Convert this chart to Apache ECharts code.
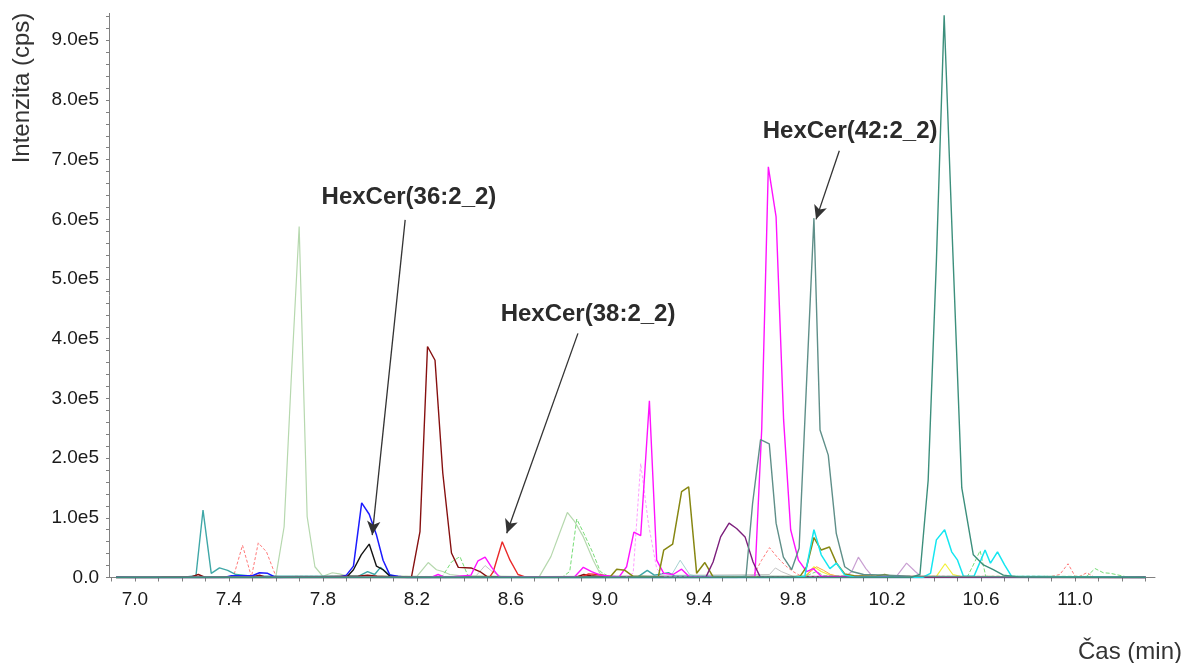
<!DOCTYPE html>
<html>
<head>
<meta charset="utf-8">
<script src="https://cdn.jsdelivr.net/npm/echarts@6/dist/echarts.min.js"></script>
<style>
  html, body { margin: 0; padding: 0; background: #fff; }
  #chart { width: 1186px; height: 663px; }
</style>
</head>
<body>
<div id="chart"></div>
<script>
// intensities in units of 1e5 cps, time in min
const xLabelTicks = [7.0, 7.4, 7.8, 8.2, 8.6, 9.0, 9.4, 9.8, 10.2, 10.6, 11.0];
const xTicks = [6.9, 7.0, 7.1, 7.2, 7.3, 7.4, 7.5, 7.6, 7.7, 7.8, 7.9, 8.0, 8.1, 8.2, 8.3, 8.4, 8.5,
  8.6, 8.7, 8.8, 8.9, 9.0, 9.1, 9.2, 9.3, 9.4, 9.5, 9.6, 9.7, 9.8, 9.9, 10.0, 10.1, 10.2, 10.3,
  10.4, 10.5, 10.6, 10.7, 10.8, 10.9, 11.0, 11.1, 11.2, 11.3];
const yLabelTicks = [0, 1, 2, 3, 4, 5, 6, 7, 8, 9];
const yTicks = [0, 0.2, 0.4, 0.6, 0.8, 1, 1.2, 1.4, 1.6, 1.8, 2, 2.2, 2.4, 2.6, 2.8, 3, 3.2, 3.4,
  3.6, 3.8, 4, 4.2, 4.4, 4.6, 4.8, 5, 5.2, 5.4, 5.6, 5.8, 6, 6.2, 6.4, 6.6, 6.8, 7, 7.2, 7.4,
  7.6, 7.8, 8, 8.2, 8.4, 8.6, 8.8, 9, 9.2, 9.4];

const paleGreen = [[6.92, 0], [7.56, 0], [7.60, 0.02], [7.635, 0.85], [7.665, 3.3], [7.699, 5.88],
  [7.733, 1.02], [7.766, 0.18], [7.80, 0.02], [7.84, 0.08], [7.87, 0.06], [7.90, 0.03], [8.20, 0.02],
  [8.248, 0.25], [8.283, 0.13], [8.31, 0.1], [8.34, 0.05], [8.38, 0.03], [8.72, 0.01], [8.77, 0.35],
  [8.805, 0.72], [8.84, 1.09], [8.872, 0.93], [8.908, 0.68], [8.95, 0.29], [8.98, 0.06], [9.02, 0.01],
  [11.3, 0]];
const lightRed = [[6.92, 0], [7.40, 0], [7.42, 0.02], [7.458, 0.54], [7.496, 0.01], [7.525, 0.58],
  [7.56, 0.43], [7.60, 0.02], [7.64, 0.01], [7.68, 0.02], [9.60, 0.01], [9.63, 0.02], [9.665, 0.28],
  [9.70, 0.5], [9.735, 0.33], [9.77, 0.19], [9.80, 0.1], [9.835, 0.02], [10.90, 0.02], [10.935, 0.05],
  [10.97, 0.23], [11.0, 0.02], [11.02, 0.02], [11.05, 0.08], [11.08, 0.01], [11.3, 0]];
const teal = [[6.92, 0], [7.20, 0], [7.26, 0.03], [7.29, 1.13], [7.325, 0.07], [7.36, 0.16],
  [7.395, 0.12], [7.43, 0.05], [7.50, 0.02], [7.95, 0.02], [7.99, 0.1], [8.02, 0.05], [8.045, 0.17],
  [8.08, 0.05], [8.12, 0], [9.14, 0.01], [9.18, 0.12], [9.21, 0.04], [9.27, 0.08], [9.30, 0.02],
  [11.3, 0]];
const blue = [[6.92, 0.01], [7.00, 0], [7.38, 0], [7.41, 0.03], [7.50, 0.03], [7.53, 0.08],
  [7.565, 0.07], [7.60, 0], [7.87, 0.01], [7.90, 0.04], [7.93, 0.19], [7.965, 1.25], [7.997, 1.06],
  [8.028, 0.71], [8.056, 0.29], [8.085, 0.04], [8.12, 0.02], [8.16, 0], [11.3, 0]];
const black = [[6.92, 0], [7.90, 0], [7.93, 0.13], [7.963, 0.38], [7.997, 0.56], [8.028, 0.19],
  [8.056, 0.13], [8.085, 0.02], [8.12, 0.01], [8.16, 0], [11.3, 0]];
const maroon = [[6.92, 0], [7.10, 0], [7.12, 0.01], [7.24, 0.01], [7.27, 0.05], [7.30, 0],
  [7.50, 0.01], [7.53, 0.04], [7.56, 0], [7.95, 0.02], [7.99, 0.04], [8.03, 0.02], [8.15, 0],
  [8.177, 0.01], [8.213, 0.77], [8.245, 3.87], [8.277, 3.64], [8.31, 1.75], [8.347, 0.41],
  [8.376, 0.17], [8.43, 0.16], [8.468, 0.1], [8.50, 0.01], [8.88, 0.01], [8.91, 0.05], [8.94, 0.03],
  [9.00, 0.01], [11.3, 0]];
const red = [[6.92, 0], [8.48, 0], [8.51, 0.01], [8.525, 0.1], [8.563, 0.6], [8.596, 0.29],
  [8.63, 0.05], [8.66, 0.01], [8.90, 0.01], [8.93, 0.06], [8.97, 0.05], [9.00, 0.03], [9.04, 0.01],
  [11.3, 0]];
const magenta = [[6.92, 0], [8.26, 0], [8.29, 0.05], [8.32, 0], [8.43, 0.04], [8.46, 0.28],
  [8.49, 0.34], [8.518, 0.17], [8.55, 0.01], [8.87, 0.01], [8.908, 0.17], [8.943, 0.1], [8.98, 0.04],
  [9.03, 0.02], [9.06, 0.01], [9.092, 0.18], [9.123, 0.76], [9.152, 0.7], [9.189, 2.96], [9.22, 0.29],
  [9.25, 0.07], [9.29, 0.05], [9.326, 0.14], [9.36, 0.01], [9.60, 0.01], [9.638, 0.02], [9.667, 2.5],
  [9.695, 6.88], [9.728, 6.04], [9.76, 2.64], [9.79, 0.8], [9.823, 0.29], [9.858, 0.1], [9.886, 0.15],
  [9.92, 0.02], [11.3, 0]];
const palePink = [[6.92, 0], [9.08, 0], [9.12, 0.07], [9.152, 1.91], [9.185, 0.9], [9.22, 0.15],
  [9.25, 0.02], [11.3, 0]];
const olive = [[6.92, 0], [9.02, 0], [9.05, 0.14], [9.085, 0.12], [9.12, 0.02], [9.227, 0.01],
  [9.25, 0.46], [9.288, 0.56], [9.326, 1.44], [9.356, 1.52], [9.39, 0.07], [9.425, 0.25], [9.46, 0.01],
  [9.80, 0.01], [9.83, 0.02], [9.858, 0.18], [9.889, 0.67], [9.92, 0.46], [9.955, 0.51], [9.985, 0.24],
  [10.02, 0.06], [10.06, 0.03], [10.15, 0.02], [10.19, 0.05], [10.23, 0.01], [11.3, 0]];
const purple = [[6.92, 0], [9.40, 0], [9.43, 0.01], [9.46, 0.26], [9.492, 0.68], [9.528, 0.91],
  [9.56, 0.82], [9.596, 0.68], [9.63, 0.26], [9.66, 0.01], [11.3, 0]];
const grayTeal = [[6.92, 0], [9.56, 0], [9.60, 0.02], [9.628, 1.24], [9.662, 2.31], [9.699, 2.24],
  [9.728, 0.91], [9.759, 0.34], [9.794, 0.13], [9.826, 0.49], [9.889, 6.02], [9.915, 2.47],
  [9.95, 2.05], [9.984, 0.74], [10.02, 0.18], [10.05, 0.1], [10.10, 0.05], [10.20, 0.04], [10.30, 0.02],
  [11.3, 0]];
const seaGreen = [[6.92, 0], [10.30, 0], [10.34, 0.05], [10.375, 1.63], [10.41, 5.3], [10.443, 9.42],
  [10.48, 5.45], [10.518, 1.5], [10.567, 0.38], [10.61, 0.21], [10.652, 0.13], [10.695, 0.04],
  [10.76, 0.01], [11.3, 0]];
const cyan = [[6.92, 0], [9.80, 0], [9.85, 0.02], [9.889, 0.8], [9.92, 0.38], [9.957, 0.15],
  [9.985, 0.24], [10.02, 0.04], [10.06, 0.01], [10.35, 0], [10.385, 0.07], [10.41, 0.63], [10.445, 0.8],
  [10.475, 0.43], [10.5, 0.29], [10.525, 0.02], [10.57, 0.02], [10.60, 0.3], [10.617, 0.46],
  [10.64, 0.24], [10.67, 0.43], [10.70, 0.21], [10.73, 0.02], [11.3, 0]];
const lightGreen = [[6.92, 0], [8.28, 0], [8.31, 0.03], [8.347, 0.26], [8.383, 0.35], [8.42, 0.0],
  [8.82, 0.01], [8.85, 0.1], [8.88, 0.98], [8.91, 0.74], [8.95, 0.4], [8.98, 0.1], [9.02, 0.01],
  [9.84, 0], [9.87, 0.05], [9.90, 0.1], [9.93, 0.03], [10.54, 0], [10.567, 0.21], [10.596, 0.45],
  [10.62, 0.02], [11.05, 0.02], [11.085, 0.15], [11.12, 0.08], [11.15, 0.07], [11.22, 0.01], [11.3, 0]];
const lavender = [[6.92, 0], [10.02, 0], [10.05, 0.1], [10.078, 0.34], [10.11, 0.15], [10.14, 0.01],
  [10.24, 0.02], [10.283, 0.24], [10.32, 0.1], [10.35, 0], [11.3, 0]];
const yellow = [[6.92, 0], [9.85, 0], [9.889, 0.18], [9.92, 0.1], [9.95, 0.05], [10.0, 0.02],
  [10.41, 0.02], [10.447, 0.23], [10.48, 0.05], [10.52, 0.01], [11.3, 0]];
const orange = [[6.92, 0], [9.85, 0.02], [9.90, 0.18], [9.93, 0.12], [9.96, 0.05], [10.0, 0.01],
  [11.3, 0]];
const lightGray = [[6.92, 0], [8.45, 0.02], [8.49, 0.2], [8.52, 0.1], [8.56, 0.01], [9.70, 0.05],
  [9.725, 0.16], [9.75, 0.1], [9.80, 0.02], [11.3, 0]];
const paleTeal = [[6.92, 0], [9.28, 0.02], [9.32, 0.29], [9.36, 0.05], [9.39, 0.02], [11.3, 0]];

const traces = [
  { name: 'paleGreen', data: paleGreen, color: '#b6d8ae', width: 1.2 },
  { name: 'lightRed', data: lightRed, color: '#ff7a7a', width: 1, dash: [3, 2] },
  { name: 'lightGray', data: lightGray, color: '#c4c4c4', width: 1 },
  { name: 'paleTeal', data: paleTeal, color: '#a6d2d2', width: 1 },
  { name: 'lavender', data: lavender, color: '#c9a0d2', width: 1.2 },
  { name: 'yellow', data: yellow, color: '#f2f03a', width: 1.2 },
  { name: 'orange', data: orange, color: '#ffa640', width: 1 },
  { name: 'lightGreen', data: lightGreen, color: '#77dd77', width: 1, dash: [4, 2] },
  { name: 'teal', data: teal, color: '#3fa7a7', width: 1.4 },
  { name: 'blue', data: blue, color: '#1c1cff', width: 1.5 },
  { name: 'black', data: black, color: '#141414', width: 1.4 },
  { name: 'maroon', data: maroon, color: '#861010', width: 1.4 },
  { name: 'red', data: red, color: '#ea2a2a', width: 1.4 },
  { name: 'palePink', data: palePink, color: '#ff9cff', width: 1, dash: [3, 2] },
  { name: 'magenta', data: magenta, color: '#ff12ff', width: 1.4 },
  { name: 'olive', data: olive, color: '#878712', width: 1.5 },
  { name: 'purple', data: purple, color: '#7c1f7c', width: 1.4 },
  { name: 'cyan', data: cyan, color: '#16e6f0', width: 1.5 },
  { name: 'grayTeal', data: grayTeal, color: '#5f8f89', width: 1.4 },
  { name: 'seaGreen', data: seaGreen, color: '#3c8f7c', width: 1.4 }
];

// annotation arrows: [from, to] in data units, plus text centres
const arrows = [
  [[8.150, 5.99], [8.010, 0.71]],
  [[8.885, 4.09], [8.582, 0.74]],
  [[9.997, 7.15], [9.898, 6.00]]
];
const notes = [
  ['HexCer(36:2_2)', 8.166, 6.36],
  ['HexCer(38:2_2)', 8.928, 4.41],
  ['HexCer(42:2_2)', 10.043, 7.48]
];

const chart = echarts.init(document.getElementById('chart'));
const font = 'Liberation Sans, Arial, sans-serif';

const series = traces.map(t => ({
  name: t.name,
  type: 'line',
  data: t.data,
  showSymbol: false,
  symbol: 'none',
  silent: true,
  lineStyle: { color: t.color, width: t.width, type: t.dash || 'solid' }
}));

series.push({
  name: 'notes',
  type: 'line',
  data: [],
  silent: true,
  markLine: {
    silent: true,
    symbol: ['none', 'arrow'],
    symbolSize: [10, 14],
    label: { show: false },
    lineStyle: { color: '#333', width: 1.3, type: 'solid' },
    data: arrows.map(a => [{ coord: a[0] }, { coord: a[1] }])
  },
  markPoint: {
    silent: true,
    symbol: 'circle',
    symbolSize: 0,
    label: {
      show: true,
      position: 'inside',
      formatter: '{b}',
      color: '#2b2b2b',
      fontFamily: font,
      fontWeight: 'bold',
      fontSize: 24
    },
    data: notes.map(n => ({ name: n[0], coord: [n[1], n[2]] }))
  }
});

chart.setOption({
  animation: false,
  backgroundColor: '#fff',
  grid: { left: 109, right: 31, top: 13.4, bottom: 85.5 },
  xAxis: {
    type: 'value',
    min: 6.89,
    max: 11.34,
    splitLine: { show: false },
    axisLine: { lineStyle: { color: '#808080', width: 1 } },
    axisTick: { customValues: xTicks, length: 4, lineStyle: { color: '#808080' } },
    axisLabel: {
      customValues: xLabelTicks,
      formatter: v => v.toFixed(1),
      color: '#1a1a1a',
      fontSize: 19,
      fontFamily: font,
      margin: 13
    }
  },
  yAxis: {
    type: 'value',
    min: 0,
    max: 9.45,
    splitLine: { show: false },
    axisLine: { show: true, lineStyle: { color: '#808080', width: 1 } },
    axisTick: { show: true, customValues: yTicks, length: 3, lineStyle: { color: '#808080' } },
    axisLabel: {
      customValues: yLabelTicks,
      formatter: v => (v === 0 ? '0.0' : v.toFixed(1) + 'e5'),
      color: '#1a1a1a',
      fontSize: 19,
      fontFamily: font,
      margin: 10
    }
  },
  graphic: [
    {
      type: 'text',
      x: 22,
      y: 88,
      rotation: Math.PI / 2,
      style: {
        text: 'Intenzita (cps)',
        fill: '#333',
        font: '24px ' + font,
        align: 'center',
        verticalAlign: 'middle'
      }
    },
    {
      type: 'text',
      x: 1130,
      y: 652,
      style: {
        text: 'Čas (min)',
        fill: '#333',
        font: '24px ' + font,
        align: 'center',
        verticalAlign: 'middle'
      }
    }
  ],
  series: series
});
</script>
</body>
</html>
